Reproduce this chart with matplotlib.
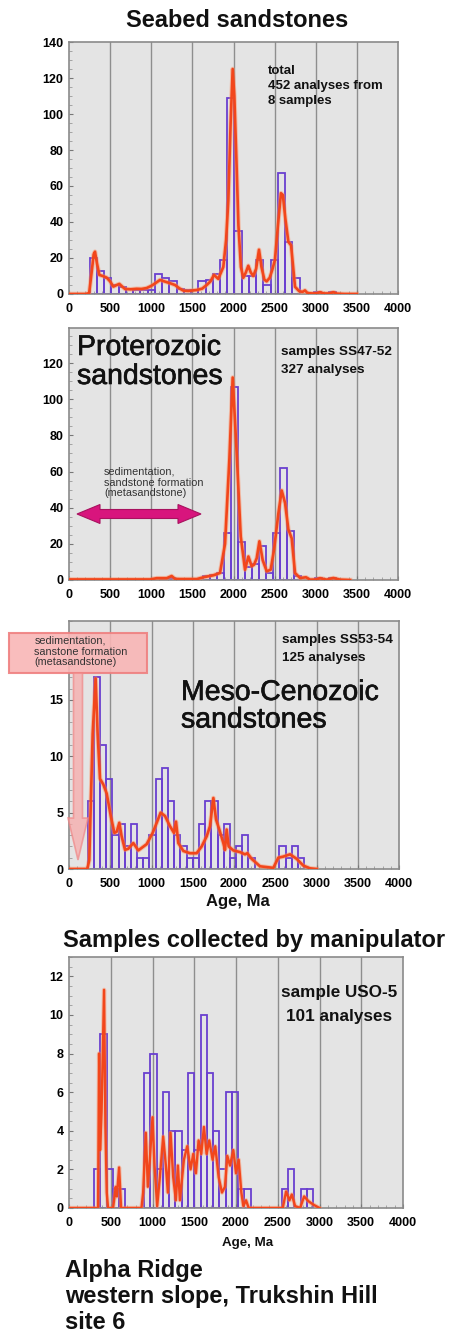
import numpy as np
import matplotlib
matplotlib.use("Agg")
import matplotlib.pyplot as plt
import matplotlib.patheffects as pe
from matplotlib.patches import Polygon
from matplotlib.ticker import MultipleLocator

plt.rcParams['font.family'] = ['Liberation Sans', 'DejaVu Sans']

W, H = 455, 1333

age_ticks = [0, 500, 1000, 1500, 2000, 2500, 3000, 3500, 4000]
age_tick_labels = ["0", "500", "1000", "1500", "2000", "2500", "3000", "3500", "4000"]

# --- Seabed sandstones (all samples) ---
seabed_bin_start = 252
seabed_bin_width = 88
seabed_counts = [20, 13, 9, 5, 4, 3, 2, 2, 2, 11, 9, 7, 3, 2, 2, 7, 8, 11, 19,
                 109, 35, 10, 10, 19, 5, 19, 67, 29, 9, 0, 0, 1, 0, 1]
seabed_pdf_age = [0, 200, 245, 275, 300, 316, 340, 369, 410, 458, 500, 539, 580,
                  612, 650, 681, 750, 823, 880, 944, 1000, 1050, 1106, 1160, 1228,
                  1289, 1340, 1390, 1450, 1552, 1620, 1674, 1720, 1763, 1815, 1876,
                  1910, 1937, 1965, 1990, 2010, 2035, 2060, 2090, 2119, 2150, 2180,
                  2210, 2240, 2275, 2310, 2340, 2375, 2403, 2440, 2475, 2504, 2540,
                  2577, 2600, 2630, 2667, 2700, 2725, 2748, 2800, 2840, 2869, 2900,
                  2960, 3010, 3052, 3100, 3160, 3214, 3260, 3350, 3498]
seabed_pdf_val = [0, 0, 0.5, 12, 22, 23.5, 17, 10.6, 10, 9.1, 7, 4.1, 5, 5.6, 4,
                  2.8, 2.6, 2.9, 2.8, 3.3, 4.5, 6, 7.8, 7, 6, 5, 3.2, 1.9, 1.7, 2.2,
                  3, 5, 7, 10.6, 8.4, 15, 30, 52, 95, 125, 110, 75, 38, 15, 9, 12,
                  15.7, 12, 10, 14, 24.6, 15, 8, 7, 9, 14, 19, 38, 56, 55, 42, 29,
                  27, 15, 4, 1.5, 1.2, 2, 0.5, 0.3, 0.4, 1, 0.3, 0.3, 1, 0.2, 0, 0]

# --- Proterozoic sandstones, samples SS47-52 ---
prot_bin_start = 1031
prot_bin_width = 85
prot_counts = [0, 1, 1, 0, 0, 0, 0, 2, 3, 4, 26, 107, 21, 7, 9, 19, 4, 26, 62,
               27, 2, 0, 0, 1, 0, 1]
prot_pdf_age = [0, 985, 1066, 1188, 1248, 1290, 1350, 1553, 1634, 1755, 1836,
                1897, 1950, 1990, 2039, 2088, 2140, 2181, 2221, 2250, 2282, 2315,
                2355, 2404, 2452, 2493, 2546, 2586, 2627, 2667, 2708, 2748, 2809,
                2882, 2931, 3000, 3052, 3133, 3214, 3296, 3417]
prot_pdf_val = [0.3, 0.3, 1, 1, 2.2, 0.6, 0.5, 0.5, 1.5, 2.6, 3.9, 20, 67, 112,
                70, 24, 5.7, 13, 7.6, 8.5, 12, 21.4, 11, 4.8, 5.7, 16.8, 37, 49.5,
                42.6, 28, 23, 3.9, 1.1, 1.5, 0.2, 0.3, 1, 0.2, 1.1, 0.2, 0]

# --- Meso-Cenozoic sandstones, samples SS53-54 ---
meso_bin_start = 225
meso_bin_width = 75
meso_counts = [6, 17, 11, 8, 3, 4, 2, 4, 1, 1, 3, 8, 9, 6, 3, 2, 1, 1, 4, 6, 6,
               3, 4, 1, 2, 3, 1, 0, 0, 0, 0, 2, 1, 2, 1]
meso_pdf_age = [0, 222, 246, 287, 323, 347, 376, 416, 457, 509, 550, 578, 610,
                638, 679, 719, 780, 840, 941, 1014, 1063, 1111, 1164, 1224, 1273,
                1297, 1325, 1386, 1467, 1547, 1608, 1669, 1709, 1750, 1782, 1822,
                1871, 1891, 1911, 1935, 1992, 2073, 2133, 2162, 2214, 2315, 2477,
                2537, 2598, 2679, 2760, 2840, 2921, 3002]
meso_pdf_val = [0, 0, 0.8, 12, 16.9, 12, 8, 7.5, 6.7, 4.6, 3.2, 3.3, 4.1, 2.9,
                1.7, 1.8, 2.3, 1.65, 2.2, 3.2, 4.1, 5.0, 4.7, 3.8, 3.2, 4.2, 2.3,
                1.6, 1.4, 1.4, 2.0, 2.9, 3.8, 6.3, 4.4, 3.5, 2.3, 1.7, 3.5, 2.0,
                1.65, 1.5, 1.3, 1.4, 0.9, 0.24, 0.1, 1.0, 1.1, 1.3, 0.9, 0.3,
                0.06, 0]

# --- Sample USO-5, collected by manipulator ---
uso_bin_start = 300
uso_bin_width = 75
uso_counts = [2, 9, 2, 1, 1, 0, 0, 0, 7, 8, 2, 6, 4, 4, 3, 7, 3, 10, 7, 4, 2, 6,
              6, 1, 1, 0, 0, 0, 0, 0, 1, 2, 0, 1, 1]
uso_pdf_age = [0, 348, 360, 372, 390, 420, 436, 452, 468, 528, 560, 573, 600,
               624, 868, 888, 920, 944, 968, 1000, 1024, 1056, 1088, 1128, 1160,
               1184, 1216, 1248, 1280, 1304, 1328, 1376, 1416, 1456, 1488, 1520,
               1552, 1584, 1616, 1648, 1680, 1720, 1752, 1792, 1832, 1868, 1896,
               1928, 1968, 2000, 2032, 2064, 2088, 2120, 2152, 2560, 2600, 2640,
               2668, 2708, 2768, 2816, 2868, 2928, 3000]
uso_pdf_val = [0, 0, 8.0, 3.0, 5.0, 11.3, 4.2, 0.8, 0, 0, 1.1, 0.6, 2.1, 0, 0,
               0.8, 3.9, 1.1, 2.5, 4.7, 2.2, 0.1, 1.6, 3.7, 2.2, 0.8, 3.9, 1.6,
               0.4, 2.2, 0.4, 2.5, 3.2, 2.0, 2.8, 1.8, 3.5, 2.8, 4.2, 2.8, 3.5,
               2.5, 3.2, 1.6, 0.8, 1.1, 2.7, 2.2, 3.0, 1.8, 2.5, 0.8, 0.1, 0.4,
               0, 0, 0.86, 0.4, 0.7, 0.1, 0, 0.6, 0.35, 0.17, 0]

BAR_COLOR = '#6a3fd0'
PDF_COLOR = '#f2461b'
BG = '#e4e4e4'
GRID = '#8e8e8e'
SPINE = '#8a8a8a'

fig = plt.figure(figsize=(W / 100, H / 100), dpi=100)
fig.patch.set_facecolor('white')


def fpos(x, y):
    return x / W, 1 - y / H


def make_axes(left, top, right, bottom, ymax, yticks, ymin_step):
    ax = fig.add_axes([left / W, 1 - bottom / H, (right - left) / W, (bottom - top) / H])
    ax.set_facecolor(BG)
    ax.set_xlim(0, 4000)
    ax.set_ylim(0, ymax)
    for s in ax.spines.values():
        s.set_color(SPINE)
        s.set_linewidth(1.2)
    for g in age_ticks[1:-1]:
        ax.axvline(g, color=GRID, lw=1.0, zorder=1)
    ax.set_xticks(age_ticks)
    ax.set_xticklabels(age_tick_labels, fontsize=9, fontweight='bold')
    ax.set_yticks(yticks)
    ax.set_yticklabels([str(t) for t in yticks], fontsize=9, fontweight='bold')
    ax.xaxis.set_minor_locator(MultipleLocator(100))
    ax.yaxis.set_minor_locator(MultipleLocator(ymin_step))
    ax.tick_params(axis='x', which='major', direction='in', length=3, color='#777777', pad=6.5)
    ax.tick_params(axis='y', which='major', direction='in', length=3, color='#777777', pad=4)
    ax.tick_params(which='minor', direction='in', length=2, color='#999999')
    return ax


def draw_hist(ax, start, width, counts):
    counts = np.asarray(counts, dtype=float)
    lefts = start + width * np.arange(len(counts))
    keep = counts > 0
    ax.bar(lefts[keep], counts[keep], width=width, align='edge', fill=False,
           edgecolor=BAR_COLOR, linewidth=1.3, zorder=2)


def draw_pdf(ax, ages, vals, lw=1.9):
    ax.plot(ages, vals, color='#ff8a5c', lw=lw + 1.4, alpha=0.45, zorder=3,
            solid_joinstyle='round')
    ax.plot(ages, vals, color=PDF_COLOR, lw=lw, zorder=4, solid_joinstyle='round')


def fig_lines(x, baselines, lines, size, weight='bold', ha='left', color='#111111',
              heavy=False):
    for b, s in zip(baselines, lines):
        fx, fy = fpos(x, b)
        t = fig.text(fx, fy, s, fontsize=size, fontweight=weight, ha=ha, va='baseline',
                     color=color, zorder=8)
        if heavy:
            t.set_path_effects([pe.withStroke(linewidth=0.45, foreground=color)])


# Panel 1
ax1 = make_axes(69, 42, 398, 294, 140, [0, 20, 40, 60, 80, 100, 120, 140], 5)
draw_hist(ax1, seabed_bin_start, seabed_bin_width, seabed_counts)
draw_pdf(ax1, seabed_pdf_age, seabed_pdf_val)
fig_lines(237, [26.7], ["Seabed sandstones"], 17, ha='center')
fig_lines(268, [74, 89.3, 104.3], ["total", "452 analyses from", "8 samples"], 9.5)

# Panel 2
ax2 = make_axes(69, 328, 398, 580, 139.4, [0, 20, 40, 60, 80, 100, 120], 5)
draw_hist(ax2, prot_bin_start, prot_bin_width, prot_counts)
draw_pdf(ax2, prot_pdf_age, prot_pdf_val)
fig_lines(77, [355, 384], ["Proterozoic", "sandstones"], 20.5, weight='normal',
          heavy=True)
fig_lines(281, [355, 373.3], ["samples SS47-52", "327 analyses"], 9.7)
fig_lines(104, [474.3, 485.7, 496], ["sedimentation,", "sandstone formation",
                                     "(metasandstone)"], 7.8, weight='normal',
          color='#333333')

# double-headed arrow (pixel geometry)
x0, x1, yc = 77, 201, 514
sh, hh, hl = 4.5, 9.5, 23
arrow_px = [(x0, yc), (x0 + hl, yc - hh), (x0 + hl, yc - sh), (x1 - hl, yc - sh),
            (x1 - hl, yc - hh), (x1, yc), (x1 - hl, yc + hh), (x1 - hl, yc + sh),
            (x0 + hl, yc + sh), (x0 + hl, yc + hh)]
fig.patches.append(Polygon([fpos(*p) for p in arrow_px], closed=True,
                           transform=fig.transFigure, facecolor='#d8157d',
                           edgecolor='#a8125f', lw=0.8, zorder=5))

# Panel 3
ax3 = make_axes(69, 621, 399, 869, 22, [0, 5, 10, 15], 1)
draw_hist(ax3, meso_bin_start, meso_bin_width, meso_counts)
draw_pdf(ax3, meso_pdf_age, meso_pdf_val)
fig_lines(181, [700, 727.5], ["Meso-Cenozoic", "sandstones"], 20.5, weight='normal',
          heavy=True)
fig_lines(282, [643.3, 660.7], ["samples SS53-54", "125 analyses"], 9.7)
fig_lines(238, [906], ["Age, Ma"], 12, ha='center')

# translucent note box with a downward arrow
bx0, by0, bx1, by1 = 9.3, 633, 147, 673
fig.patches.append(Polygon([fpos(bx0, by0), fpos(bx1, by0), fpos(bx1, by1), fpos(bx0, by1)],
                           closed=True, transform=fig.transFigure,
                           facecolor='#f9b6b6', edgecolor='#ef8080', lw=1.5,
                           alpha=0.9, zorder=5))
down_px = [(73.5, by1), (82.5, by1), (82.5, 818), (88, 818), (78, 860), (68, 818),
           (73.5, 818)]
fig.patches.append(Polygon([fpos(*p) for p in down_px], closed=True,
                           transform=fig.transFigure, facecolor='#f9a8a8',
                           edgecolor='#f08686', lw=1.2, alpha=0.7, zorder=5))
fig_lines(34.3, [643.7, 655, 665.3], ["sedimentation,", "sanstone formation",
                                      "(metasandstone)"], 7.8, weight='normal',
          color='#333333')

# Panel 4
fig_lines(63.3, [947.3], ["Samples collected by manipulator"], 17)
ax4 = make_axes(69, 957, 403, 1208, 13, [0, 2, 4, 6, 8, 10, 12], 0.5)
draw_hist(ax4, uso_bin_start, uso_bin_width, uso_counts)
draw_pdf(ax4, uso_pdf_age, uso_pdf_val, lw=1.7)
fig_lines(339, [997.3, 1021], ["sample USO-5", "101 analyses"], 12.3, ha='center')
fig_lines(248, [1245.7], ["Age, Ma"], 9.6, ha='center')

fig_lines(65, [1276.7, 1302.7, 1329], ["Alpha Ridge", "western slope, Trukshin Hill",
                                       "site 6"], 17)

fig.savefig("out.png", dpi=100)
